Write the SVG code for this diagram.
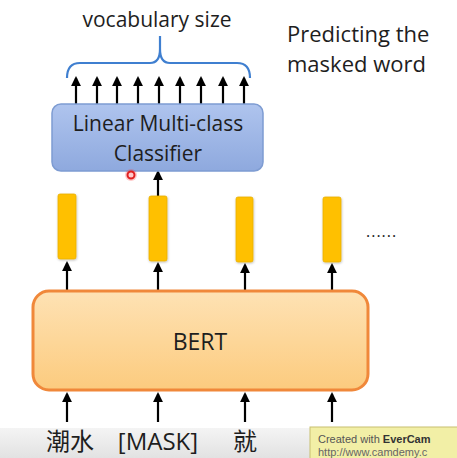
<svg xmlns="http://www.w3.org/2000/svg" width="457" height="458" viewBox="0 0 457 458">
<defs>
<style>
.t{font-family:"Open Sans","Liberation Sans","Noto Sans CJK SC",sans-serif;fill:#1e1e1e}
.ar{stroke:#000;stroke-width:2.2;fill:none;marker-end:url(#ah)}
.bar{fill:#FFC000;stroke:#E8B000;stroke-width:0.8}
</style>
<marker id="ah" viewBox="0 0 10 10" refX="8" refY="5" markerWidth="4.5" markerHeight="4.5" orient="auto" markerUnits="strokeWidth">
<path d="M0,0 L10,5 L0,10 z" fill="#000"/>
</marker>
<linearGradient id="gb" x1="0" y1="0" x2="0" y2="1">
<stop offset="0" stop-color="#AFC4EE"/><stop offset="1" stop-color="#8EA9DE"/>
</linearGradient>
<linearGradient id="go" x1="0" y1="0" x2="0" y2="1">
<stop offset="0" stop-color="#FEE2B4"/><stop offset="1" stop-color="#FCCB7E"/>
</linearGradient>
<linearGradient id="gg" x1="0" y1="0" x2="0" y2="1">
<stop offset="0" stop-color="#f4f4f4"/><stop offset="1" stop-color="#e2e2e2"/>
</linearGradient>
<filter id="sh" x="-30%" y="-10%" width="160%" height="130%">
<feDropShadow dx="0.5" dy="1" stdDeviation="1" flood-color="#000" flood-opacity="0.25"/>
</filter>
</defs>
<rect width="457" height="458" fill="#ffffff"/>
<rect x="0" y="428" width="457" height="30" fill="url(#gg)"/>

<g id="labels">
<text class="t" x="157" y="27" font-size="21" text-anchor="middle">vocabulary size</text>
<text class="t" x="287" y="42" font-size="22">Predicting the</text>
<text class="t" x="287" y="72" font-size="22">masked word</text>
<text class="t" x="366" y="237" font-size="16" fill="#333" letter-spacing="1">......</text>
</g>

<g id="brace">
<path d="M67,78 Q67,63 80,63 L150,63 Q160,63 160,49 L160,36 M160,49 Q160,63 170,63 L237,63 Q250,63 250,78" fill="none" stroke="#3F7FD0" stroke-width="2.2"/>
</g>

<g id="connectors">
<line class="ar" x1="76" y1="104" x2="76" y2="78"/>
<line class="ar" x1="97" y1="104" x2="97" y2="78"/>
<line class="ar" x1="117" y1="104" x2="117" y2="78"/>
<line class="ar" x1="138" y1="104" x2="138" y2="78"/>
<line class="ar" x1="159" y1="104" x2="159" y2="78"/>
<line class="ar" x1="180" y1="104" x2="180" y2="78"/>
<line class="ar" x1="201" y1="104" x2="201" y2="78"/>
<line class="ar" x1="223" y1="104" x2="223" y2="78"/>
<line class="ar" x1="244" y1="104" x2="244" y2="78"/>
<line class="ar" x1="158" y1="196" x2="158" y2="172"/>
<line class="ar" x1="67" y1="291" x2="67" y2="263"/>
<line class="ar" x1="158" y1="291" x2="158" y2="264"/>
<line class="ar" x1="245" y1="291" x2="245" y2="265"/>
<line class="ar" x1="332" y1="291" x2="332" y2="265"/>
<line class="ar" x1="67" y1="422" x2="67" y2="394"/>
<line class="ar" x1="158" y1="422" x2="158" y2="394"/>
<line class="ar" x1="245" y1="422" x2="245" y2="394"/>
<line class="ar" x1="332" y1="422" x2="332" y2="394"/>
</g>

<g id="classifier">
<rect x="52" y="104" width="211" height="67" rx="9" fill="url(#gb)" stroke="#7E9CD2" stroke-width="1.5"/>
<text class="t" x="158" y="131" font-size="21" text-anchor="middle">Linear Multi-class</text>
<text class="t" x="158" y="161" font-size="21" text-anchor="middle">Classifier</text>
</g>

<g id="bar1"><rect class="bar" x="58" y="194" width="18" height="65" rx="2" filter="url(#sh)"/></g>
<g id="bar2"><rect class="bar" x="149" y="196" width="18" height="65" rx="2" filter="url(#sh)"/></g>
<g id="bar3"><rect class="bar" x="236" y="197" width="17" height="65" rx="2" filter="url(#sh)"/></g>
<g id="bar4"><rect class="bar" x="323" y="197" width="18" height="65" rx="2" filter="url(#sh)"/></g>

<g id="bert">
<rect x="33" y="291" width="335" height="99" rx="16" fill="url(#go)" stroke="#F0883A" stroke-width="3"/>
<text class="t" x="200" y="350" font-size="23" text-anchor="middle">BERT</text>
</g>

<g id="inputs">
<text class="t" x="70" y="450" font-size="24" text-anchor="middle" fill="#333">潮水</text>
<text class="t" x="158" y="450" font-size="24" text-anchor="middle" fill="#333">[MASK]</text>
<text class="t" x="245" y="450" font-size="24" text-anchor="middle" fill="#333">就</text>
</g>

<g id="cursor">
<circle cx="131" cy="175" r="6" fill="#ff3030" opacity="0.25"/>
<circle cx="131" cy="175" r="3.5" fill="none" stroke="#e02020" stroke-width="2"/>
</g>

<g id="watermark">
<rect x="310" y="427" width="150" height="33" fill="#F2EFA6" stroke="#c8c070" stroke-width="1"/>
<text x="318" y="443" font-size="11" font-family="Liberation Sans,sans-serif" fill="#555">Created with <tspan font-weight="bold" fill="#333">EverCam</tspan></text>
<text x="318" y="456" font-size="11" font-family="Liberation Sans,sans-serif" fill="#666">http://www.camdemy.c</text>
</g>
</svg>
